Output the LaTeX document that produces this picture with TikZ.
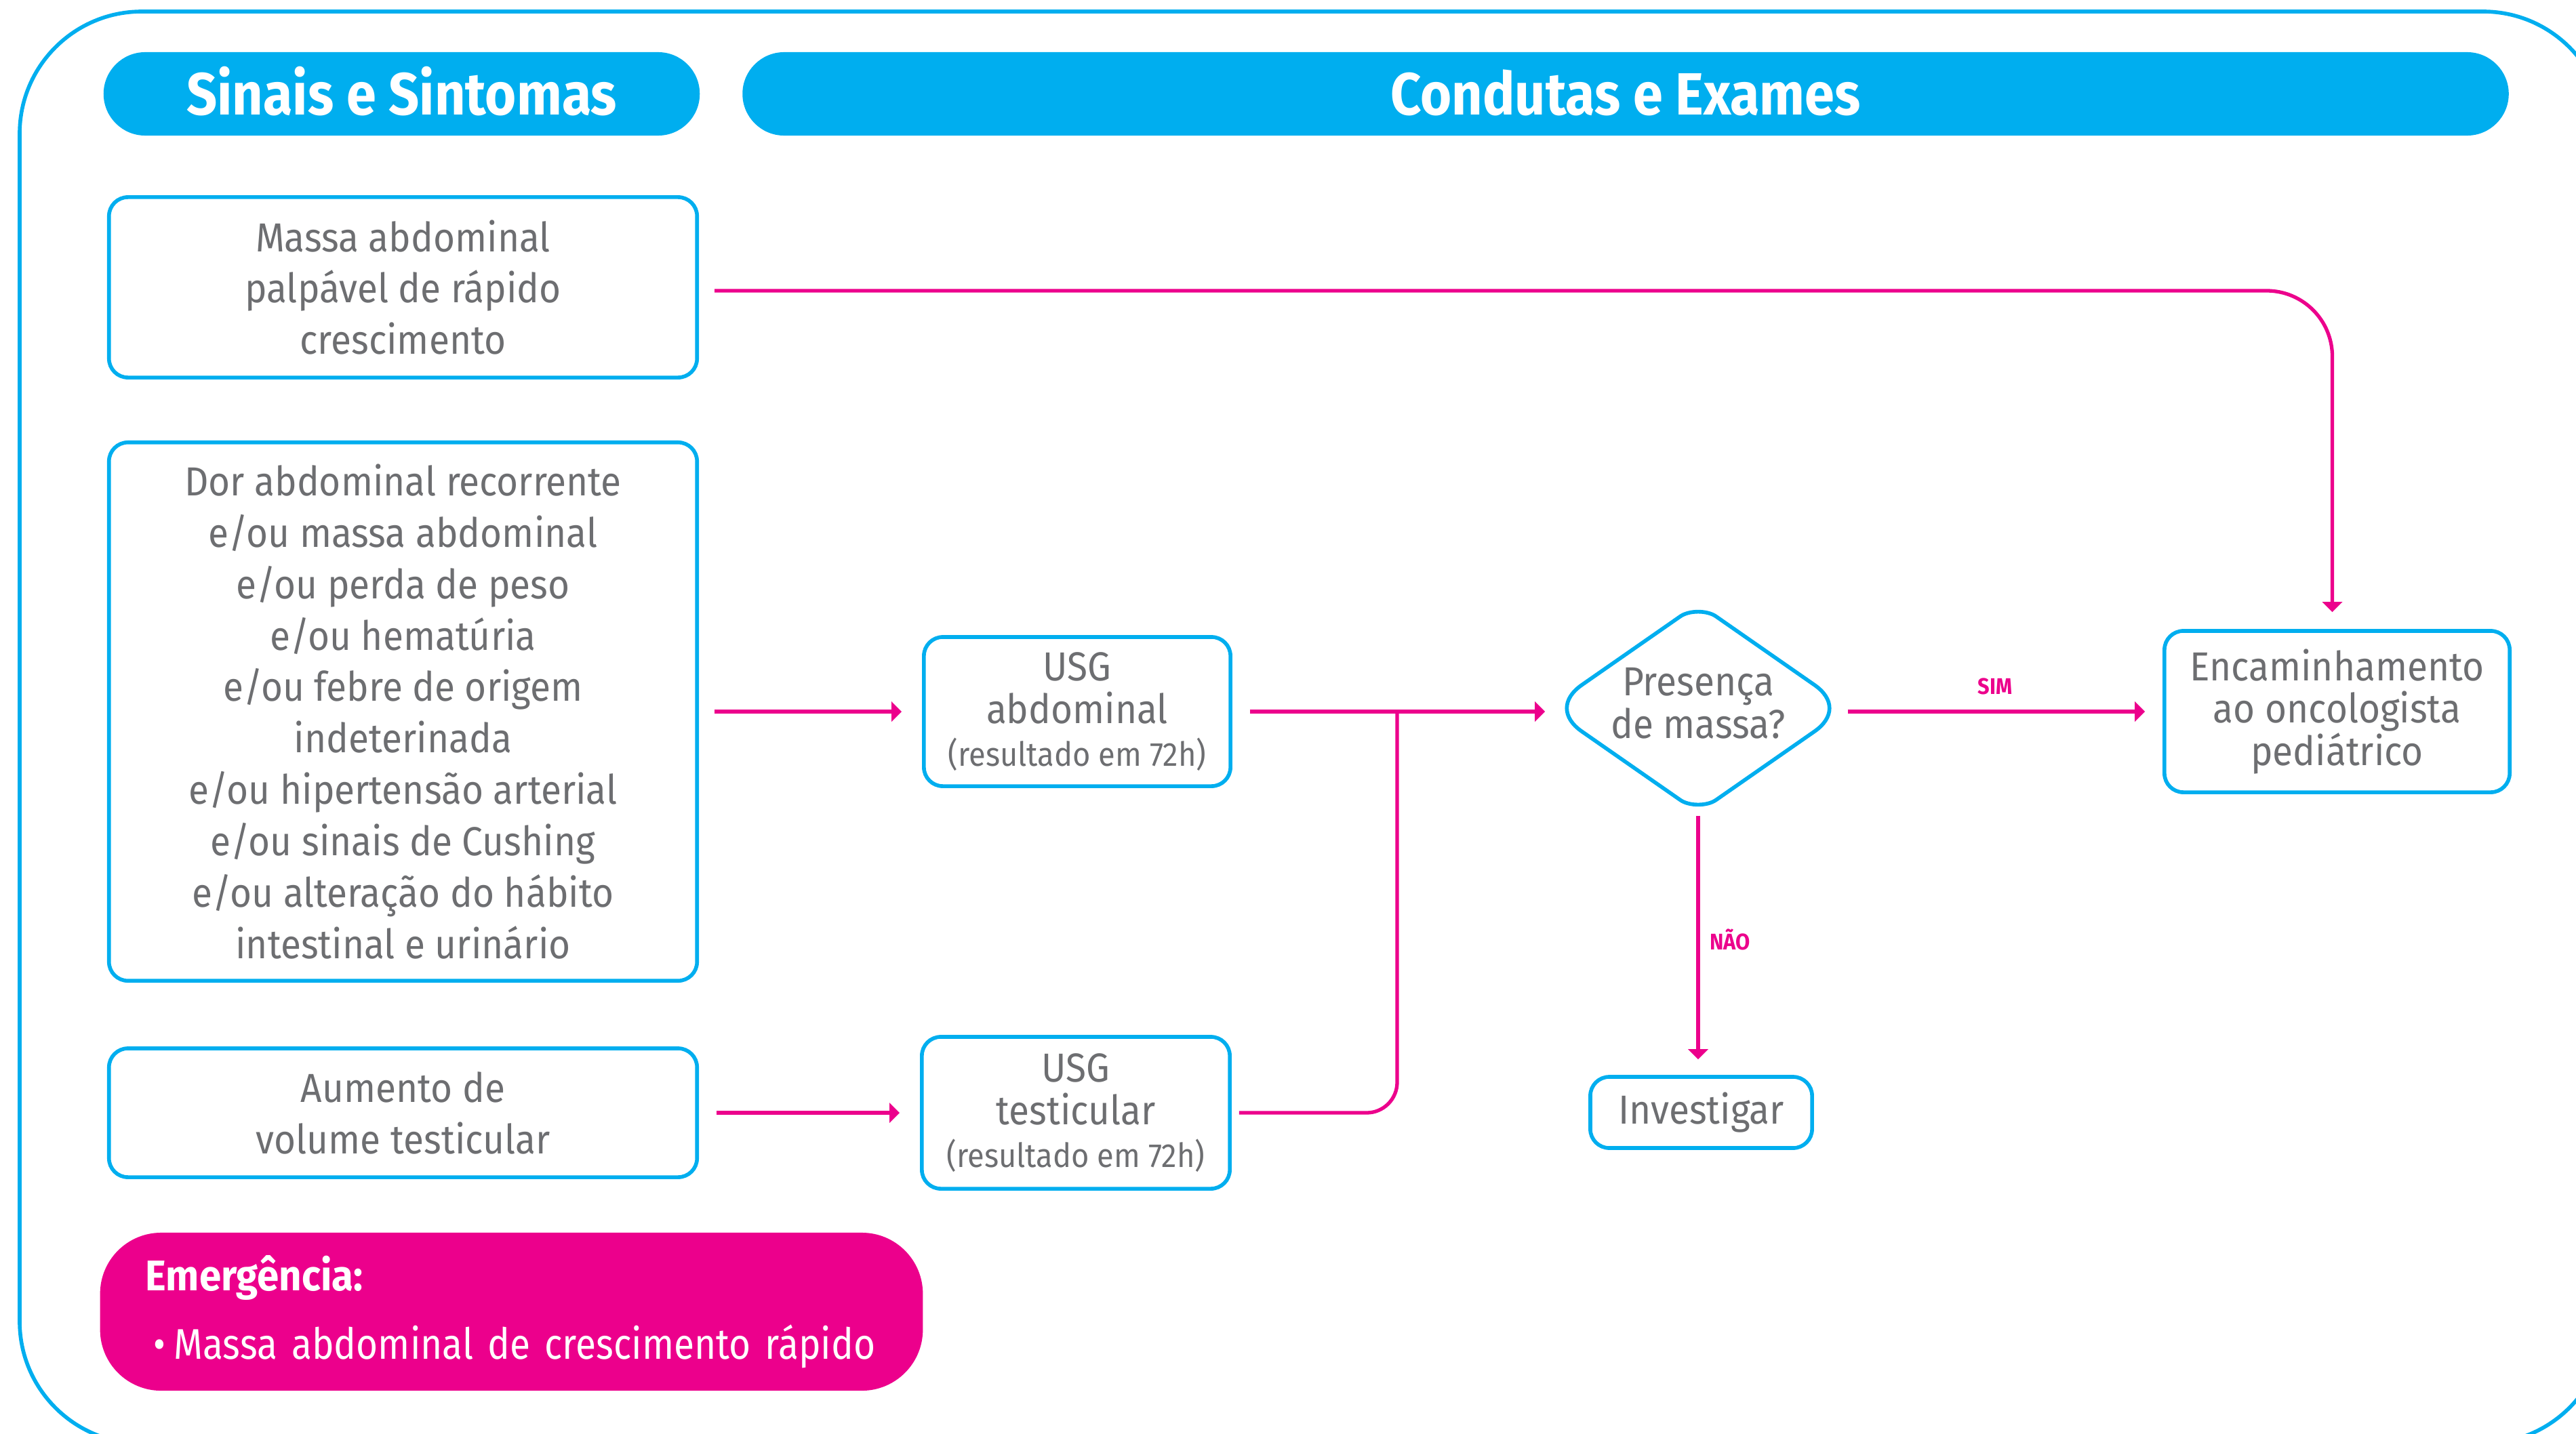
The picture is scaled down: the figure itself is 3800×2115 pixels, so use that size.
\documentclass[tikz,border=0pt]{standalone}
\usepackage{fontspec}
\setmainfont{Fira Sans}[FakeStretch=0.92]
\newfontfamily\hdrfam{Fira Sans}[FakeStretch=0.9]
\newfontfamily\emfam{Fira Sans}[FakeStretch=0.87]
\usetikzlibrary{arrows.meta,calc}
\definecolor{cyanC}{HTML}{00AEEF}
\definecolor{magC}{HTML}{EC008C}
\definecolor{grayT}{HTML}{6D6E71}
\tikzset{
  hdr/.style={fill=cyanC, rounded corners=0.615cm, text=white, minimum height=1.23cm, inner sep=0pt,
    text height=0.61cm, text depth=0pt,
    font=\hdrfam\bfseries\fontsize{25}{30}\selectfont},
  box/.style={draw=cyanC, line width=1.6pt, rounded corners=0.28cm, text=grayT, align=center, inner sep=0pt},
  bigtxt/.style={font=\fontsize{17}{21.6}\selectfont},
  midtxt/.style={font=\fontsize{17}{17.9}\selectfont},
  magline/.style={draw=magC, line width=1.5pt},
  conn/.style={magline, -{Triangle[length=0.15cm, width=0.29cm]}},
  lbl/.style={text=magC, font=\bfseries\fontsize{9.5}{11}\selectfont, inner sep=0pt},
}
\newcommand{\smallres}{{\fontsize{14}{16}\selectfont (resultado em 72h)}}
\begin{document}
\begin{tikzpicture}[x=0.01cm, y=-0.01cm]
\useasboundingbox (0,0) rectangle (3800,2115);
\begin{scope}
\clip (0,0) rectangle (3800,2115);
\draw[cyanC, line width=1.6pt, rounded corners=1.8cm] (29,17) rectangle (3843,2130);
\end{scope}

% headers
\node[hdr, minimum width=8.79cm] (h1) at (592.5,138.5) {Sinais e Sintomas};
\node[hdr, minimum width=26.04cm] (h2) at (2398,138.5) {Condutas e Exames};

% left boxes
\node[box, bigtxt, minimum width=8.67cm, minimum height=2.66cm] (A) at (594.5,424)
  {Massa abdominal\\palpável de rápido\\crescimento};
\node[box, bigtxt, minimum width=8.67cm, minimum height=7.94cm] (B) at (594.5,1050)
  {Dor abdominal recorrente\\e/ou massa abdominal\\e/ou perda de peso\\e/ou hematúria\\e/ou febre de origem\\indeterinada\\e/ou hipertensão arterial\\e/ou sinais de Cushing\\e/ou alteração do hábito\\intestinal e urinário};
\node[box, bigtxt, minimum width=8.67cm, minimum height=1.90cm] (C) at (594.5,1642)
  {Aumento de\\volume testicular};

% middle boxes
\node[box, midtxt, minimum width=4.52cm, minimum height=2.20cm] (abd) at (1589,1050)
  {USG\\abdominal\\\smallres};
\node[box, midtxt, minimum width=4.54cm, minimum height=2.24cm] (test) at (1587,1642)
  {USG\\testicular\\\smallres};

% decision
\node[minimum width=4.4cm, minimum height=3.06cm, inner sep=0pt] (d) at (2505,1045) {};
\node[midtxt, text=grayT, align=center, inner sep=0pt] (dt) at (2505,1038) {Presença\\de massa?};
\draw[cyanC, line width=1.6pt, line join=round]
  ($(d.north)!0.32cm!(d.east)$) -- ($(d.east)!0.6cm!(d.north)$)
  .. controls ($(d.east)!0.24cm!(d.north)$) and ($(d.east)!0.24cm!(d.south)$) .. ($(d.east)!0.6cm!(d.south)$)
  -- ($(d.south)!0.32cm!(d.east)$)
  .. controls ($(d.south)!0.16cm!(d.east)$) and ($(d.south)!0.16cm!(d.west)$) .. ($(d.south)!0.32cm!(d.west)$)
  -- ($(d.west)!0.6cm!(d.south)$)
  .. controls ($(d.west)!0.24cm!(d.south)$) and ($(d.west)!0.24cm!(d.north)$) .. ($(d.west)!0.6cm!(d.north)$)
  -- ($(d.north)!0.32cm!(d.west)$)
  .. controls ($(d.north)!0.16cm!(d.west)$) and ($(d.north)!0.16cm!(d.east)$) .. ($(d.north)!0.32cm!(d.east)$) -- cycle;

\node[box, midtxt, minimum width=5.09cm, minimum height=2.38cm] (enc) at (3447.5,1050)
  {Encaminhamento\\ao oncologista\\pediátrico};
\node[box, bigtxt, minimum width=3.27cm, minimum height=1.05cm] (inv) at (2509.5,1641.5)
  {Investigar};

% emergency
\node[fill=magC, rounded corners=0.9cm, minimum height=2.33cm, text width=10.79cm, inner xsep=0.67cm,
  inner ysep=0pt, align=left, text=white, font=\fontsize{18}{28.7}\selectfont] (em) at (754.5,1935.5)
  {\textbf{Emergência:}\\\mbox{\emfam\hspace*{0.12cm}•\hspace{0.12cm}Massa abdominal de crescimento rápido}};

% connectors
\draw[conn, rounded corners=0.97cm, shorten <=0.23cm, shorten >=0.25cm] ([yshift=-0.05cm]A.east) -| ([xshift=-0.07cm]enc.north);
\draw[conn, shorten <=0.23cm, shorten >=0.3cm] (B.east) -- (B.east -| abd.west);
\draw[conn, shorten <=0.26cm] (C.east) -- ([xshift=-0.3cm]C.east -| test.west);
\draw[conn, shorten <=0.26cm] (abd.east) -- ([xshift=-0.05cm]abd.east -| d.west);
\coordinate (j) at (2061,1050);
\draw[magline, rounded corners=0.45cm, shorten <=0.11cm] (test.east) -| (j);
\draw[conn, shorten >=0.26cm] (d.east |- enc.west) -- (enc.west);
\draw[conn, shorten <=0.05cm, shorten >=0.23cm] (d.south) -- (d.south |- inv.north);
\node[lbl] (sim) at (2943,1013) {SIM};
\node[lbl] (nao) at (2552,1386) {NÃO};
\end{tikzpicture}
\end{document}
